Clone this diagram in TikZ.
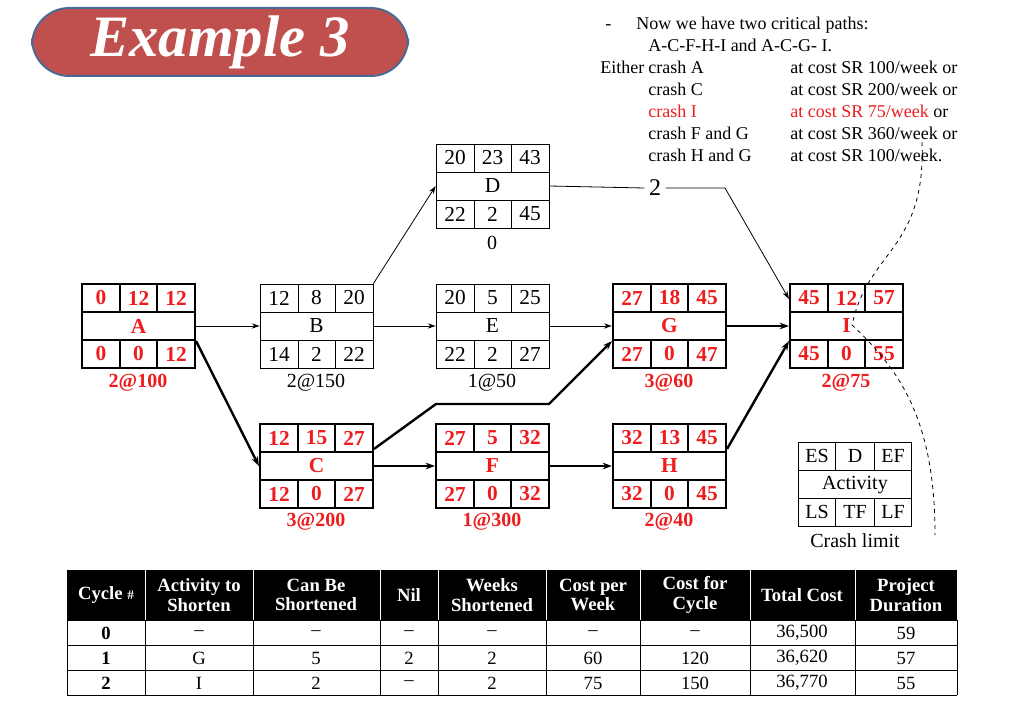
\documentclass[tikz,border=0pt]{standalone}
\usepackage{fontspec}
\setmainfont{Liberation Serif}
\usetikzlibrary{arrows.meta}
\definecolor{titlered}{HTML}{C0504D}
\definecolor{titleedge}{HTML}{4A6A96}
\definecolor{cred}{HTML}{EE1C1C}
\tikzset{
 abox/.style={draw=black,rectangle,minimum width=84.75pt,minimum height=63pt,inner sep=0pt},
 crit/.style={line width=1.6pt,text=cred,font=\fontsize{16}{18}\selectfont\bfseries},
 norm/.style={line width=0.5pt,text=black,font=\fontsize{16}{18}\selectfont},
 lab/.style={font=\fontsize{15}{17}\selectfont\bfseries,text=cred},
 labn/.style={font=\fontsize{15}{17}\selectfont},
 tt/.style={font=\fontsize{13.5}{15}\selectfont,anchor=base west,inner sep=0pt},
 thin/.style={line width=0.6pt,-{Stealth[length=6pt,width=4pt]}},
 thick/.style={line width=1.8pt,-{Stealth[length=7pt,width=5pt]}},
 th/.style={text=white,font=\fontsize{14}{14.5}\selectfont\bfseries,align=center},
 td/.style={font=\fontsize{14}{15}\selectfont},
}
\newcommand\actbox[5]{%
 \node[abox,#4] (#1) at (#2+56.5,#3+42) {};
 \draw[#4] (#2,#3+28)--(#2+113,#3+28) (#2,#3+56)--(#2+113,#3+56)
  (#2+38,#3)--(#2+38,#3+28) (#2+75,#3)--(#2+75,#3+28)
  (#2+38,#3+56)--(#2+38,#3+84) (#2+75,#3+56)--(#2+75,#3+84);
 \node[#4] at (#2+56.5,#3+42) {#5};}
\newcommand\cells[9]{%
 \node[#9] at (#1+19,#2+14) {#3};
 \node[#9] at (#1+56.5,#2+14) {#4};
 \node[#9] at (#1+94,#2+14) {#5};
 \node[#9] at (#1+19,#2+70) {#6};
 \node[#9] at (#1+56.5,#2+70) {#7};
 \node[#9] at (#1+94,#2+70) {#8};}
\begin{document}
\begin{tikzpicture}[x=0.75pt,y=-0.75pt]
\useasboundingbox (0,0) rectangle (1024,709);
% title
\node[draw=titleedge,line width=1.5pt,fill=titlered,rounded corners=28pt,minimum width=282pt,minimum height=51pt,text=white,font=\fontsize{44}{46}\selectfont\bfseries\itshape] (title) at (220,42) {Example 3};
% top text
\node[tt] (t0) at (605,30) {-};
\node[tt] (t1) at (636,30) {Now we have two critical paths:};
\node[tt] (t2) at (648,52) {A-C-F-H-I and A-C-G- I.};
\node[tt] (t3) at (600,74) {Either};
\node[tt] (c1) at (648,74) {crash A};
\node[tt] (c2) at (648,96) {crash C};
\node[tt,text=cred] (c3) at (648,118) {crash I};
\node[tt] (c4) at (648,140) {crash F and G};
\node[tt] (c5) at (648,162) {crash H and G};
\node[tt] (k1) at (790,74) {at cost SR 100/week or};
\node[tt] (k2) at (790,96) {at cost SR 200/week or};
\node[tt] (k3) at (790,118) {\textcolor{cred}{at cost SR 75/week} or};
\node[tt] (k4) at (790,140) {at cost SR 360/week or};
\node[tt] (k5) at (790,162) {at cost SR 100/week.};
% boxes
\actbox{A}{82}{284}{crit}{A}\cells{82}{284}{0}{12}{12}{0}{0}{12}{crit}
\actbox{B}{260}{284}{norm}{B}\cells{260}{284}{12}{8}{20}{14}{2}{22}{norm}
\actbox{D}{436}{144}{norm}{D}\cells{436}{144}{20}{23}{43}{22}{2}{45}{norm}
\actbox{E}{436}{284}{norm}{E}\cells{436}{284}{20}{5}{25}{22}{2}{27}{norm}
\actbox{G}{613}{284}{crit}{G}\cells{613}{284}{27}{18}{45}{27}{0}{47}{crit}
\actbox{I}{790}{284}{crit}{I}\cells{790}{284}{45}{12}{57}{45}{0}{55}{crit}
\actbox{C}{260}{424}{crit}{C}\cells{260}{424}{12}{15}{27}{12}{0}{27}{crit}
\actbox{F}{436}{424}{crit}{F}\cells{436}{424}{27}{5}{32}{27}{0}{32}{crit}
\actbox{H}{613}{424}{crit}{H}\cells{613}{424}{32}{13}{45}{32}{0}{45}{crit}
% labels
\node[lab] (lA) at (138,383) {2@100};
\node[labn] (lB) at (316,383) {2@150};
\node[labn] (lD) at (492,243) {0};
\node[labn] (lE) at (492,383) {1@50};
\node[lab] (lG) at (669,383) {3@60};
\node[lab] (lI) at (846,383) {2@75};
\node[lab] (lC) at (316,522) {3@200};
\node[lab] (lF) at (492,522) {1@300};
\node[lab] (lH) at (669,522) {2@40};
% legend
\node[abox,line width=0.5pt] (L) at (855,484) {};
\draw[line width=0.5pt] (799,470)--(911,470) (799,498)--(911,498)
 (835,442)--(835,470) (874,442)--(874,470) (835,498)--(835,526) (874,498)--(874,526);
\node[labn] at (817,456) {ES};\node[labn] at (855,456) {D};\node[labn] at (893,456) {EF};
\node[labn] at (855,485) {Activity};
\node[labn] at (817,512) {LS};\node[labn] at (855,512) {TF};\node[labn] at (893,512) {LF};
\node[labn] (cl) at (855,541) {Crash limit};
% connectors
\draw[thin] (A.east)--(B.west);
\draw[thin] (B.east)--(E.west);
\draw[thin] (E.east)--(G.west);
\draw[thin] (B.north east)--(D.west);
\node[font=\fontsize{18}{20}\selectfont] (two) at (655,188) {2};
\draw[line width=0.6pt] (D.east)--(two.west);
\draw[thin] (two.east)--(725,188)--([yshift=-12pt]I.north west);
\draw[thick] ([yshift=21pt]A.south east)--(C.west);
\draw[thick] (C.east)--(F.west);
\draw[thick] (F.east)--(H.west);
\draw[thick] (G.east)--(I.west);
\draw[thick] ([yshift=-19.5pt]C.north east)--(436,404)--(549,404)--([yshift=21pt]G.south west);
\draw[thick] ([yshift=-19.5pt]H.north east)--([yshift=21pt]I.south west);
% dashed curves
\draw[dashed,line width=0.6pt] (922,142) .. controls (926,250) and (868,250) .. (852,325)
  .. controls (900,370) and (935,420) .. (935,535);
% table
\fill[black] (67,570) rectangle (957,620);
\draw[line width=0.6pt] (67,620)--(957,620) (67,645)--(957,645) (67,670)--(957,670) (67,695)--(957,695)
 (67,620)--(67,695) (957,620)--(957,695);
\foreach \xx in {145,253,380,438,546,640,750,855}{\draw[line width=0.6pt] (\xx,620)--(\xx,695);}
\foreach \xx in {145,253,380,438,546,640,750,855}{\draw[white,line width=0.6pt] (\xx,570)--(\xx,620);}
\node[th] at (106,595) {Cycle \fontsize{10}{10}\selectfont\#};
\node[th] at (199,595) {Activity to\\Shorten};
\node[th] at (316,595) {Can Be\\Shortened};
\node[th] at (409,595) {Nil};
\node[th] at (492,595) {Weeks\\Shortened};
\node[th] at (593,595) {Cost per\\Week};
\node[th] at (695,595) {Cost for\\Cycle};
\node[th] at (802,595) {Total Cost};
\node[th] at (906,595) {Project\\Duration};
\foreach \r/\yy/\a/\b/\c/\d/\e/\f/\g/\h in
 {0/633/--/--/--/--/--/--/{36,500}/59, 1/658/G/5/2/2/60/120/{36,620}/57, 2/683/I/2/--/2/75/150/{36,770}/55}{
 \node[td,font=\fontsize{14}{15}\selectfont\bfseries] at (106,\yy) {\r};
 \node[td] at (199,\yy) {\a};
 \node[td] at (316,\yy) {\b};
 \node[td] at (409,\yy) {\c};
 \node[td] at (492,\yy) {\d};
 \node[td] at (593,\yy) {\e};
 \node[td] at (695,\yy) {\f};
 \node[td] at (802,\yy) {\g};
 \node[td] at (906,\yy) {\h};}
\end{tikzpicture}
\end{document}
